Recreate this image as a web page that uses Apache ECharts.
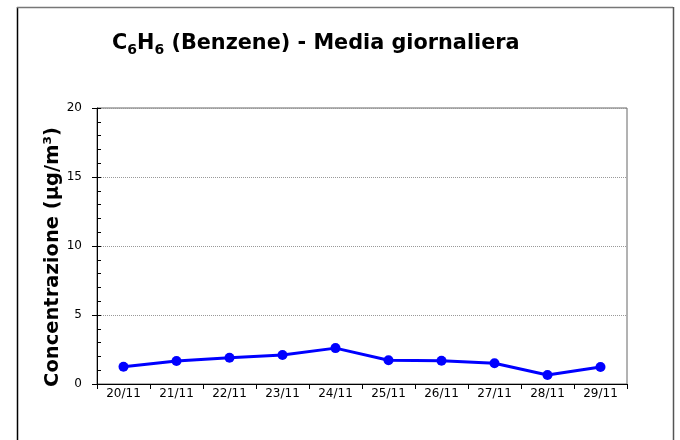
<!DOCTYPE html>
<html>
<head>
<meta charset="utf-8">
<script src="https://cdn.jsdelivr.net/npm/echarts@6/dist/echarts.min.js"></script>
<style>html,body{margin:0;padding:0;background:#fff;}#c{width:680px;height:440px;}</style>
</head>
<body>
<div id="c"></div>
<script>
var categories = ['20/11','21/11','22/11','23/11','24/11','25/11','26/11','27/11','28/11','29/11'];
var benzene = [1.25, 1.67, 1.9, 2.1, 2.6, 1.72, 1.69, 1.5, 0.65, 1.23];
var yTicks = [0, 5, 10, 15, 20];
var yTitle = 'Concentrazione (µg/m³)';

var font = '"DejaVu Sans"';
var chart = echarts.init(document.getElementById('c'), null, {renderer: 'canvas'});
chart.setOption({
  animation: false,
  backgroundColor: '#fff',
  title: {
    left: 107, top: 26,
    text: '{m|C}{s|6}{m|H}{s|6}{m| (Benzene) - Media giornaliera}',
    textStyle: {
      rich: {
        m: {fontFamily: font, fontWeight: 'bold', fontSize: 20.8, color: '#000', lineHeight: 26},
        s: {fontFamily: font, fontWeight: 'bold', fontSize: 14, color: '#000', lineHeight: 14, verticalAlign: 'bottom'}
      }
    }
  },
  graphic: [
    {type: 'line', shape: {x1: 17.5, y1: 7, x2: 17.5, y2: 440}, style: {stroke: '#000', lineWidth: 1.5}, silent: true},
    {type: 'line', shape: {x1: 17, y1: 7.5, x2: 673, y2: 7.5}, style: {stroke: '#777', lineWidth: 1.5}, silent: true},
    {type: 'line', shape: {x1: 673.5, y1: 7, x2: 673.5, y2: 440}, style: {stroke: '#555', lineWidth: 1.5}, silent: true},
    {type: 'text', x: 53, y: 257, rotation: Math.PI / 2, silent: true,
     style: {text: yTitle, font: 'bold 19.5px "DejaVu Sans"', fill: '#000', textAlign: 'center', textVerticalAlign: 'middle'}}
  ],
  grid: {left: 97, right: 53, top: 108, bottom: 56, show: true, borderColor: '#666', borderWidth: 1, backgroundColor: 'transparent'},
  xAxis: {
    type: 'category',
    data: categories,
    boundaryGap: true,
    axisLine: {lineStyle: {color: '#000', width: 1}},
    axisTick: {show: true, inside: false, length: 5, alignWithLabel: false, lineStyle: {color: '#000'}},
    axisLabel: {fontFamily: font, fontSize: 12, color: '#000', margin: 4, interval: 0},
    splitLine: {show: false}
  },
  yAxis: [{
    type: 'value',
    min: yTicks[0], max: yTicks[yTicks.length - 1], interval: 5,
    axisLine: {show: true, lineStyle: {color: '#000', width: 1}},
    axisTick: {show: true, inside: false, length: 5, lineStyle: {color: '#000'}},
    axisLabel: {fontFamily: font, fontSize: 12, color: '#000', margin: 15},
    splitLine: {show: true, lineStyle: {color: '#999', type: 'dotted', width: 1}}
  }, {
    type: 'value', position: 'left',
    min: yTicks[0], max: yTicks[yTicks.length - 1], interval: 1,
    axisLine: {show: false},
    axisTick: {show: true, inside: true, length: 4, lineStyle: {color: '#000'}},
    axisLabel: {show: false},
    splitLine: {show: false}
  }],
  series: [{
    type: 'line',
    data: benzene,
    yAxisIndex: 0,
    symbol: 'circle',
    symbolSize: 10,
    lineStyle: {color: '#0000ff', width: 3},
    itemStyle: {color: '#0000ff'},
    z: 5
  }]
});
</script>
</body>
</html>
